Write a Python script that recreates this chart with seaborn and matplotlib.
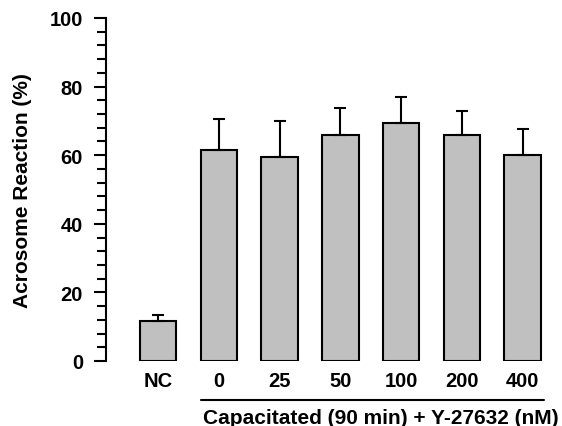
import numpy as np
import pandas as pd
import matplotlib
matplotlib.use('Agg')
import matplotlib.pyplot as plt
import seaborn as sns
from matplotlib.ticker import MultipleLocator

sns.set_theme(style='white')
plt.rcParams['font.family'] = ['Liberation Sans', 'DejaVu Sans']
plt.rcParams.update({'text.color': 'black', 'axes.labelcolor': 'black',
                     'xtick.color': 'black', 'ytick.color': 'black'})

groups = ['NC', '0', '25', '50', '100', '200', '400']
means = [11.6, 61.6, 59.4, 66.0, 69.4, 66.0, 60.0]
sems = [1.7, 9.0, 10.5, 7.8, 7.7, 6.8, 7.6]

df = pd.DataFrame({'group': groups, 'mean': means})

fig = plt.figure(figsize=(5.62, 4.27), dpi=100)
ax = fig.add_axes([106 / 562, 65 / 427, 450 / 562, 343 / 427])

sns.barplot(data=df, x='group', y='mean', order=groups, color='#c0c0c0',
            edgecolor='black', linewidth=1.5, width=0.6, saturation=1,
            errorbar=None, ax=ax)

# only upper error bars
ax.errorbar(np.arange(len(groups)), means, yerr=[np.zeros(len(sems)), sems],
            fmt='none', ecolor='black', elinewidth=1.5, capsize=4.5,
            capthick=1.5, zorder=1)

ax.set_ylim(0, 100)
ax.set_xlim(-0.86, 6.55)
ax.yaxis.set_major_locator(MultipleLocator(20))
ax.yaxis.set_minor_locator(MultipleLocator(4))
ax.tick_params(axis='y', which='major', length=8.6, width=1.5, left=True,
               labelsize=14.5, pad=8, colors='black')
ax.tick_params(axis='y', which='minor', length=6.5, width=1.5, left=True,
               colors='black')
ax.tick_params(axis='x', length=0, labelsize=14.5, pad=7, colors='black')
for lab in ax.get_yticklabels() + ax.get_xticklabels():
    lab.set_fontweight('bold')

for s in ['top', 'right', 'bottom']:
    ax.spines[s].set_visible(False)
ax.spines['left'].set_linewidth(1.5)
ax.spines['left'].set_color('black')

ax.set_xlabel('')
ax.set_ylabel('Acrosome Reaction (%)', fontsize=15, fontweight='bold',
              color='black')
ax.yaxis.set_label_coords(-0.165, 0.5)

# group bracket under the treated bars
ax.plot([0.7, 6.35], [-11.3, -11.3], color='black', lw=1.5, clip_on=False,
        transform=ax.transData)
ax.text(3.66, -16.6, 'Capacitated (90 min) + Y-27632 (nM)', ha='center',
        va='center', fontsize=15, fontweight='bold', color='black')

fig.savefig('out.png', dpi=100)
